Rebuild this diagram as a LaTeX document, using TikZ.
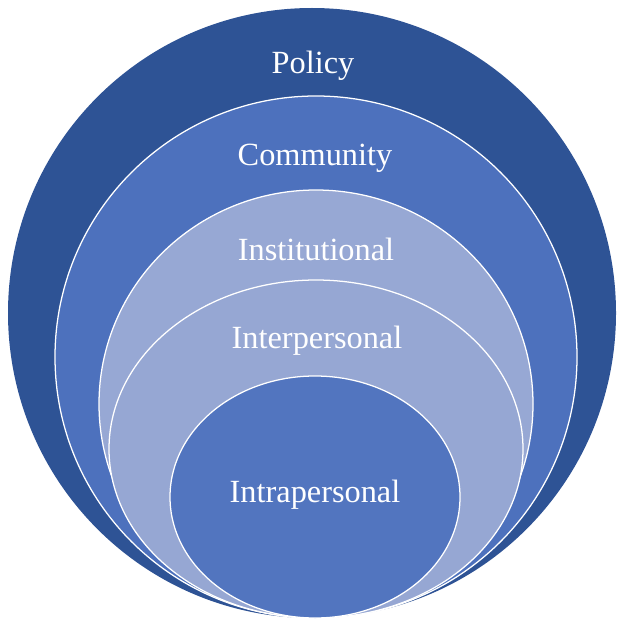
\documentclass[tikz,border=0pt]{standalone}
\usepackage{fontspec}
\setmainfont{Liberation Serif}
\usepackage{tikz}
\definecolor{policyblue}{HTML}{2E5395}
\definecolor{commblue}{HTML}{4D71BD}
\definecolor{instblue}{HTML}{97A8D4}
\definecolor{interblue}{HTML}{96A7D3}
\definecolor{intrablue}{HTML}{5275BF}

\begin{document}
\begin{tikzpicture}[x=0.025cm,y=-0.025cm,
  ring/.style={draw=white,line width=0.9pt},
  lbl/.style={text=white,font=\fontsize{23}{27}\selectfont,inner sep=0pt}]

\useasboundingbox (0,0) rectangle (621,623);

\coordinate (P) at (312,313);
\coordinate (C) at (316,357);
\coordinate (S) at (316,404);
\coordinate (E) at (316,449);
\coordinate (A) at (315,497);

% nested levels, all touching at the bottom
\fill[policyblue] (P) ellipse (304 and 305);
\draw[ring,fill=commblue] (C) ellipse (261 and 261);
\draw[ring,fill=instblue] (S) ellipse (217 and 214);
\draw[ring,fill=interblue] (E) ellipse (207 and 169);
\draw[ring,fill=intrablue] (A) ellipse (145 and 121);

\node[lbl] (policy) at (313,66) {Policy};
\node[lbl] (community) at (315,158) {Community};
\node[lbl] (institutional) at (316,249) {Institutional};
\node[lbl] (interpersonal) at (317,341) {Interpersonal};
\node[lbl] (intrapersonal) at (315,495) {Intrapersonal};

\end{tikzpicture}
\end{document}
